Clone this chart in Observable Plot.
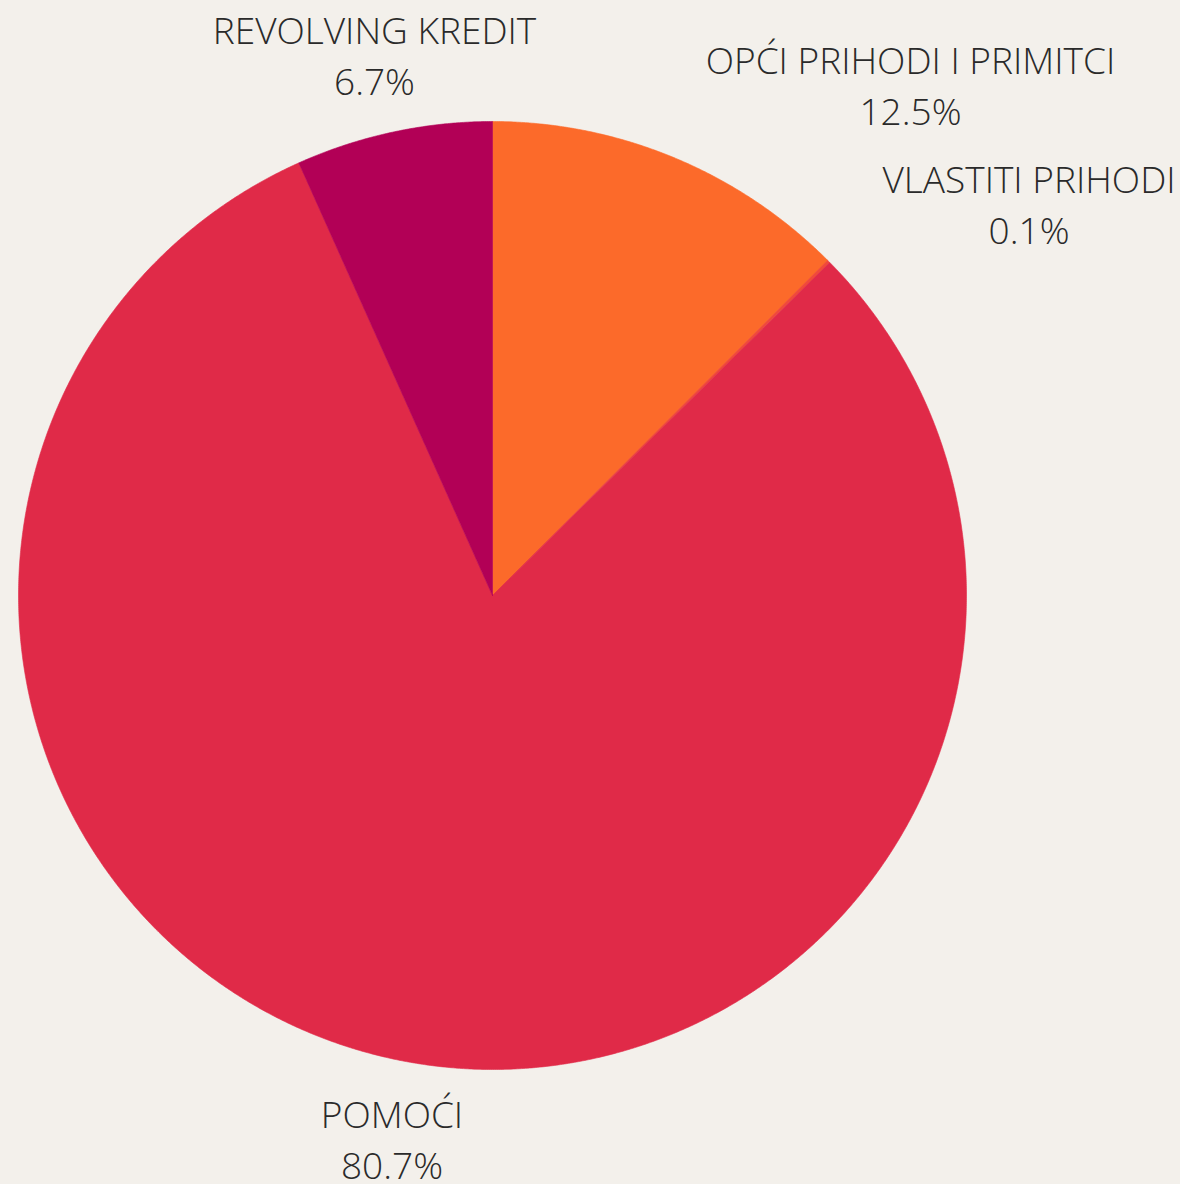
<!DOCTYPE html>
<html>
<head>
<meta charset="utf-8">
<script src="https://cdn.jsdelivr.net/npm/d3@7"></script>
<script src="https://cdn.jsdelivr.net/npm/@observablehq/plot@0.6"></script>
<style>
  html, body { margin: 0; padding: 0; background: #f3f0eb; overflow: hidden; }
  #chart svg { display: block; }
</style>
</head>
<body>
<div id="chart"></div>
<script>
// Data (clockwise from 12 o'clock)
const categories = ["OPĆI PRIHODI I PRIMITCI", "VLASTITI PRIHODI", "POMOĆI", "REVOLVING KREDIT"];
const shares = [12.5, 0.1, 80.7, 6.7];
const sliceColors = ["#fc6a2a", "#f04a3a", "#e02a48", "#b20056"];

// Label layout (angle in degrees clockwise from top, radius in pie radii)
const labelLayout = {
  "OPĆI PRIHODI I PRIMITCI": {angle: 39.19, r: 1.3956},
  "VLASTITI PRIHODI": {angle: 53.73, r: 1.404},
  "POMOĆI": {angle: 190.52, r: 1.1616},
  "REVOLVING KREDIT": {angle: 347.73, r: 1.1716}
};

const W = 1180, H = 1184, R = 474, CX = 492, CY = 595;
const total = d3.sum(shares);

// Build slice outlines in pie units
const slicePts = [];
let cum = 0;
categories.forEach((name, i) => {
  const a0 = cum / total * 2 * Math.PI;
  cum += shares[i];
  const a1 = cum / total * 2 * Math.PI;
  const n = Math.max(2, Math.ceil((a1 - a0) / (Math.PI / 720)));
  slicePts.push({name, x: 0, y: 0});
  for (let k = 0; k <= n; k++) {
    const a = a0 + (a1 - a0) * k / n;
    slicePts.push({name, x: Math.sin(a), y: Math.cos(a)});
  }
  slicePts.push({name, x: 0, y: 0});
});

const labels = categories.map((name, i) => {
  const L = labelLayout[name];
  const a = L.angle * Math.PI / 180;
  return {name, share: shares[i], x: L.r * Math.sin(a), y: L.r * Math.cos(a)};
});

const chart = Plot.plot({
  width: W,
  height: H,
  margin: 0,
  style: {background: "#f3f0eb", fontFamily: "'Open Sans', sans-serif", overflow: "hidden"},
  x: {domain: [-CX / R, (W - CX) / R], axis: null},
  y: {domain: [-(H - CY) / R, CY / R], axis: null},
  color: {domain: categories, range: sliceColors},
  marks: [
    Plot.line(slicePts, {x: "x", y: "y", z: "name", fill: "name", stroke: "name", strokeWidth: 0.6, curve: "linear"}),
    Plot.text(labels, {
      x: "x", y: "y",
      text: d => `${d.name}\n${d.share.toFixed(1)}%`,
      fontSize: 37,
      fontWeight: 300,
      lineHeight: 1.39,
      fill: "#2a2a2a",
      textAnchor: "middle"
    })
  ]
});
document.getElementById("chart").appendChild(chart);
</script>
</body>
</html>
